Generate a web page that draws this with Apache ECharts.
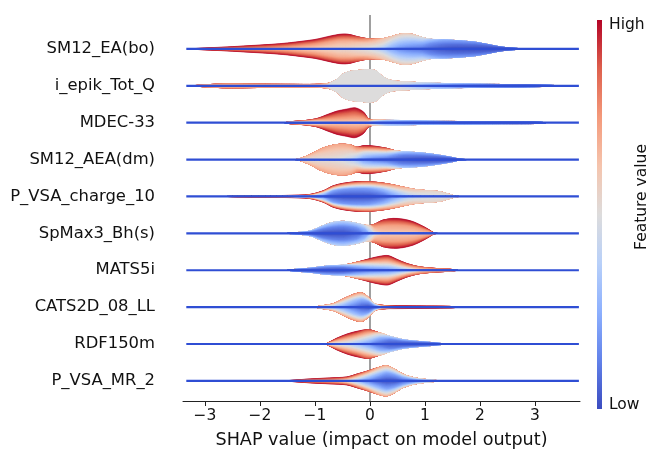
<!DOCTYPE html>
<html><head><meta charset="utf-8">
<script src="https://cdn.jsdelivr.net/npm/echarts@6/dist/echarts.min.js"></script>
<style>html,body{margin:0;padding:0;background:#fff}#c{width:649px;height:452px}</style>
</head><body><div id="c"></div>
<script>
// ---------- data ----------
const features = ['SM12_EA(bo)','i_epik_Tot_Q','MDEC-33','SM12_AEA(dm)','P_VSA_charge_10',
  'SpMax3_Bh(s)','MATS5i','CATS2D_08_LL','RDF150m','P_VSA_MR_2'];
const xTicks = [-3,-2,-1,0,1,2,3];
const xPointsRange = [-3.34, 3.80];
// each profile point: [SHAP value, density (half-width),
//   feature value at centre, feature value half-way out, feature value at edge]
const v_SM12_EA_bo = [[-3.3,0,0.9,0.95,1],[-3.0,1.0,0.85,0.92,1],[-2.6,2.0,0.8,0.9,1],[-2.2,3.3,0.75,0.88,1],
  [-1.8,4.6,0.7,0.85,1],[-1.5,6.0,0.65,0.82,1],[-1.2,8.0,0.6,0.78,1],[-1.0,9.5,0.58,0.75,1],
  [-0.85,11.3,0.56,0.72,1],[-0.7,13.2,0.55,0.7,1],[-0.55,14.7,0.53,0.68,1],[-0.45,15.0,0.53,0.68,1],
  [-0.35,14.2,0.52,0.66,0.98],[-0.2,11.8,0.5,0.62,0.9],[-0.05,10.2,0.48,0.58,0.8],[0.1,9.8,0.42,0.55,0.7],
  [0.25,10.3,0.32,0.5,0.62],[0.4,12.5,0.22,0.4,0.6],[0.55,14.8,0.15,0.35,0.58],[0.67,15.3,0.12,0.33,0.58],
  [0.8,14.2,0.1,0.3,0.56],[0.95,11.5,0.08,0.25,0.5],[1.1,9.6,0.05,0.15,0.35],[1.3,9.0,0.02,0.1,0.25],
  [1.5,8.6,0,0.08,0.22],[1.7,7.8,0,0.07,0.2],[1.9,6.8,0,0.06,0.18],[2.05,5.4,0,0.05,0.15],
  [2.2,3.8,0,0.04,0.12],[2.35,2.2,0,0.03,0.1],[2.5,1.2,0,0.02,0.08],[2.7,0.4,0,0.02,0.05],[2.9,0,0,0.02,0.05]];
const v_i_epik_Tot_Q = [[-3.25,0,0.65,0.7,0.75],[-3.0,1.0,0.65,0.7,0.75],[-2.6,2.0,0.65,0.7,0.78],
  [-2.2,1.8,0.65,0.7,0.78],[-1.8,1.5,0.65,0.7,0.75],[-1.4,1.4,0.65,0.7,0.75],[-1.0,1.4,0.62,0.68,0.72],
  [-0.8,2.0,0.55,0.6,0.65],[-0.7,3.5,0.5,0.5,0.5],[-0.6,6.3,0.5,0.5,0.5],[-0.5,11.5,0.5,0.5,0.5],
  [-0.35,14.5,0.5,0.5,0.5],[-0.15,15.6,0.5,0.5,0.5],[0.0,16.3,0.5,0.5,0.5],[0.12,14.7,0.5,0.5,0.5],
  [0.24,9.0,0.5,0.5,0.5],[0.36,5.7,0.5,0.5,0.5],[0.5,4.5,0.45,0.48,0.52],[0.65,4.0,0.4,0.45,0.5],
  [0.85,3.3,0.3,0.38,0.45],[1.2,2.5,0.2,0.28,0.35],[1.6,1.8,0.1,0.18,0.25],[2.0,1.5,0.05,0.12,0.2],
  [2.4,1.3,0.02,0.08,0.15],[2.8,1.0,0,0.05,0.1],[3.2,0.6,0,0.05,0.1],[3.5,0,0,0.05,0.1]];
const v_MDEC_33 = [[-1.55,0,0.7,0.78,0.85],[-1.45,1.0,0.5,0.7,0.85],[-1.2,2.0,0.4,0.65,0.9],
  [-0.97,4.0,0.45,0.7,0.95],[-0.8,7.7,0.55,0.78,1],[-0.6,11.7,0.6,0.8,1],[-0.42,13.7,0.6,0.8,1],
  [-0.27,15.0,0.6,0.8,1],[-0.12,11.0,0.58,0.78,1],[-0.03,4.3,0.5,0.7,0.9],[0.06,2.5,0.3,0.45,0.6],
  [0.3,2.3,0.2,0.28,0.35],[0.7,2.0,0.12,0.2,0.3],[1.15,1.4,0.05,0.15,0.25],[1.6,1.2,0.02,0.1,0.2],
  [2.1,1.0,0,0.08,0.15],[2.6,0.9,0,0.05,0.1],[3.0,0.8,0,0.05,0.1],[3.2,0,0,0.05,0.1]];
const v_SM12_AEA_dm = [[-1.35,0,0.5,0.58,0.65],[-1.27,1.0,0.5,0.58,0.65],[-1.1,4.7,0.5,0.58,0.68],
  [-0.91,10.3,0.5,0.58,0.7],[-0.73,13.7,0.5,0.58,0.7],[-0.55,15.3,0.48,0.57,0.7],[-0.36,14.7,0.4,0.55,0.72],
  [-0.24,12.3,0.3,0.52,0.8],[-0.12,14.0,0.18,0.48,1],[0.06,13.7,0.1,0.45,1],[0.3,11.3,0.05,0.35,0.9],
  [0.45,9.0,0.03,0.2,0.6],[0.6,7.8,0.02,0.12,0.35],[0.85,7.0,0,0.1,0.28],[1.09,5.7,0,0.08,0.25],
  [1.33,3.7,0,0.06,0.2],[1.5,2.0,0,0.05,0.15],[1.62,0.6,0,0.04,0.1],[1.75,0,0,0.04,0.1]];
const v_P_VSA_charge_10 = [[-2.6,0,0.8,0.9,1],[-2.4,0.5,0.8,0.9,1],[-1.9,0.8,0.8,0.9,1],[-1.5,1.1,0.75,0.88,1],
  [-1.1,2.0,0.5,0.75,1],[-0.85,5.7,0.15,0.4,1],[-0.67,10.7,0.02,0.22,1],[-0.48,13.3,0,0.18,1],
  [-0.24,14.7,0,0.18,0.95],[0.0,14.7,0,0.2,0.9],[0.24,13.3,0.05,0.28,0.85],[0.4,11.8,0.15,0.38,0.78],
  [0.55,10.0,0.25,0.45,0.72],[0.7,8.2,0.35,0.5,0.65],[0.85,6.7,0.42,0.5,0.6],[1.0,6.0,0.45,0.5,0.56],
  [1.15,5.5,0.47,0.5,0.54],[1.3,4.4,0.47,0.5,0.54],[1.45,2.0,0.47,0.5,0.52],[1.55,0.5,0.45,0.48,0.5],
  [1.62,0,0.45,0.48,0.5]];
const v_SpMax3_Bh_s = [[-1.5,0,0.1,0.18,0.3],[-1.39,0.5,0.1,0.18,0.3],[-1.09,2.3,0.05,0.14,0.32],
  [-0.85,7.7,0,0.12,0.36],[-0.67,11.0,0,0.12,0.38],[-0.48,12.0,0,0.12,0.38],[-0.24,10.0,0.05,0.16,0.4],
  [-0.1,8.0,0.15,0.25,0.45],[0.0,7.8,0.3,0.45,0.6],[0.09,9.3,0.5,0.65,0.85],[0.24,13.3,0.6,0.7,0.95],
  [0.42,15.0,0.6,0.72,1],[0.6,14.3,0.6,0.72,1],[0.79,11.7,0.6,0.72,1],[0.97,7.0,0.62,0.74,1],
  [1.08,3.5,0.62,0.75,1],[1.15,1.0,0.65,0.78,1],[1.22,0,0.7,0.8,1]];
const v_MATS5i = [[-1.5,0,0,0.08,0.2],[-1.39,0.7,0,0.08,0.2],[-1.09,2.0,0,0.1,0.22],[-0.79,4.0,0,0.1,0.25],
  [-0.48,5.0,0,0.12,0.35],[-0.24,8.0,0.05,0.3,0.8],[0.0,11.7,0.1,0.5,1],[0.18,14.0,0.12,0.6,1],
  [0.33,14.7,0.15,0.62,1],[0.48,11.3,0.2,0.62,1],[0.67,6.7,0.3,0.65,0.95],[0.91,3.3,0.55,0.7,0.85],
  [1.21,1.7,0.65,0.75,0.85],[1.45,1.0,0.65,0.72,0.8],[1.6,0,0.65,0.72,0.8]];
const v_CATS2D_08_LL = [[-1.0,0,0.4,0.5,0.6],[-0.91,1.0,0.4,0.52,0.65],[-0.67,3.3,0.3,0.5,0.7],
  [-0.48,8.3,0.2,0.42,0.72],[-0.3,12.7,0.1,0.32,0.75],[-0.15,14.3,0.03,0.25,0.75],[-0.03,10.0,0,0.2,0.7],
  [0.09,3.3,0.05,0.3,0.6],[0.24,1.7,0.6,0.72,0.85],[0.5,1.5,0.8,0.9,1],[0.85,1.3,0.85,0.92,1],
  [1.2,1.0,0.8,0.88,0.95],[1.45,0.7,0.7,0.78,0.85],[1.65,0,0.6,0.7,0.8]];
const v_RDF150m = [[-0.85,0,0.5,0.7,0.9],[-0.79,0.5,0.5,0.72,0.95],[-0.61,5.7,0.45,0.7,1],
  [-0.42,10.0,0.4,0.68,1],[-0.24,12.7,0.3,0.62,1],[-0.03,14.3,0.18,0.5,0.9],[0.18,11.0,0.06,0.25,0.6],
  [0.36,7.7,0.02,0.12,0.4],[0.6,4.3,0,0.1,0.3],[0.85,2.7,0,0.08,0.25],[1.15,1.3,0,0.06,0.2],
  [1.33,0.3,0,0.05,0.15],[1.4,0,0,0.05,0.15]];
const v_P_VSA_MR_2 = [[-1.55,0,0.8,0.9,1],[-1.45,0.5,0.8,0.9,1],[-1.09,2.0,0.75,0.88,1],[-0.73,3.0,0.7,0.85,1],
  [-0.42,4.0,0.5,0.75,1],[-0.24,6.7,0.3,0.6,0.95],[-0.03,10.0,0.12,0.42,0.85],[0.15,13.3,0.03,0.3,0.72],
  [0.3,15.0,0,0.22,0.68],[0.45,11.7,0,0.22,0.65],[0.6,6.7,0.05,0.25,0.62],[0.79,3.3,0.1,0.3,0.6],
  [0.97,1.7,0.2,0.38,0.55],[1.15,0.7,0.2,0.35,0.5],[1.3,0,0.2,0.35,0.5]];
const profiles = [v_SM12_EA_bo, v_i_epik_Tot_Q, v_MDEC_33, v_SM12_AEA_dm, v_P_VSA_charge_10,
  v_SpMax3_Bh_s, v_MATS5i, v_CATS2D_08_LL, v_RDF150m, v_P_VSA_MR_2];

// ---------- style ----------
const COOLWARM = [[59,76,192],[98,130,234],[141,176,254],[184,208,249],[221,220,220],
  [245,196,173],[244,154,123],[222,96,77],[180,4,38]];
function cw(t){
  t = Math.max(0, Math.min(1, t));
  const p = t*(COOLWARM.length-1), i = Math.min(COOLWARM.length-2, Math.floor(p)), f = p-i;
  const a = COOLWARM[i], b = COOLWARM[i+1];
  return 'rgb(' + a.map((v,j)=>Math.round(v+(b[j]-v)*f)).join(',') + ')';
}
const FONT = 'DejaVu Sans';
const DENS_PER_ROW = 36.88;
const NLEV = 61;
const LINE_BLUE = '#2f4ed4';

function frac(L, a, b){
  if (b - a < 1e-9) return L >= a - 1e-9 ? 1 : 0;
  return Math.min(1, Math.max(0, (L-a)/(b-a)));
}
function layerFrac(L, ci, cm, co){
  if (L >= co - 1e-9) return 1;
  if (L <= cm) return 0.5*frac(L, ci, cm);
  return 0.5 + 0.5*frac(L, cm, co);
}

function renderViolin(params, api){
  const row = api.value(1);
  const prof = profiles[row];
  const children = [];
  for (let k = NLEV-1; k >= 0; k--){
    const L = k/(NLEV-1);
    const top = [], bot = [];
    let any = false;
    for (const [x,d,ci,cm,co] of prof){
      const w = d*layerFrac(L, ci, cm, co)/DENS_PER_ROW;
      if (w > 0) any = true;
      top.push(api.coord([x, row - w]));
      bot.push(api.coord([x, row + w]));
    }
    if (!any) continue;
    const c = cw(L);
    children.push({type:'polygon', shape:{points: top.concat(bot.reverse()), smooth:0.3},
      style:{fill:c, stroke:c, lineWidth:0.6}});
  }
  const a = api.coord([xPointsRange[0], row]), b = api.coord([xPointsRange[1], row]);
  children.push({type:'line', shape:{x1:a[0], y1:a[1], x2:b[0], y2:b[1]},
    style:{stroke:LINE_BLUE, lineWidth:2.2}});
  return {type:'group', children};
}

const chart = echarts.init(document.getElementById('c'), null, {renderer:'canvas'});
chart.setOption({
  animation:false,
  backgroundColor:'#fff',
  grid:{left:183, right:69, top:15, bottom:51, containLabel:false, outerBoundsMode:'none'},
  xAxis:{type:'value', min:-3.4, max:3.82,
    axisLine:{onZero:false, lineStyle:{color:'#222', width:1}},
    axisTick:{customValues:xTicks, length:5, lineStyle:{color:'#222'}},
    axisLabel:{customValues:xTicks, fontSize:15.5, color:'#111', fontFamily:FONT, margin:7,
      formatter:v => v < 0 ? '\u2212' + (-v) : String(v)},
    splitLine:{show:false},
    name:'SHAP value (impact on model output)', nameLocation:'middle', nameGap:30,
    nameTextStyle:{fontSize:17.6, color:'#111', fontFamily:FONT}},
  yAxis:{type:'value', min:-0.92, max:9.545, inverse:true,
    axisLine:{show:false}, axisTick:{show:false}, splitLine:{show:false},
    axisLabel:{customValues:features.map((f,i)=>i), fontSize:16.4, color:'#111', fontFamily:FONT, margin:28,
      formatter:v => features[Math.round(v)]}},
  graphic:[
    {type:'rect', left:597, top:20, shape:{width:5, height:389},
      style:{fill:new echarts.graphic.LinearGradient(0,1,0,0,
        COOLWARM.map((c,i)=>({offset:i/(COOLWARM.length-1), color:'rgb('+c.join(',')+')'})))}},
    {type:'text', left:609, top:17, style:{text:'High', fontSize:15.5, fill:'#111', fontFamily:FONT}},
    {type:'text', left:609, top:397, style:{text:'Low', fontSize:15.5, fill:'#111', fontFamily:FONT}},
    {type:'text', x:642, y:197, rotation:Math.PI/2,
      style:{text:'Feature value', fontSize:15.5, fill:'#111', fontFamily:FONT, align:'center', verticalAlign:'middle'}}
  ],
  series:[
    {type:'line', data:[], z:0, silent:true,
      markLine:{silent:true, z:0, symbol:'none', label:{show:false},
        lineStyle:{color:'#888', width:1.6, type:'solid'}, data:[{xAxis:0}]}},
    {type:'custom', z:5, silent:true, renderItem:renderViolin,
      data:features.map((f,i)=>[0,i]), clip:false}
  ]
});
</script></body></html>
